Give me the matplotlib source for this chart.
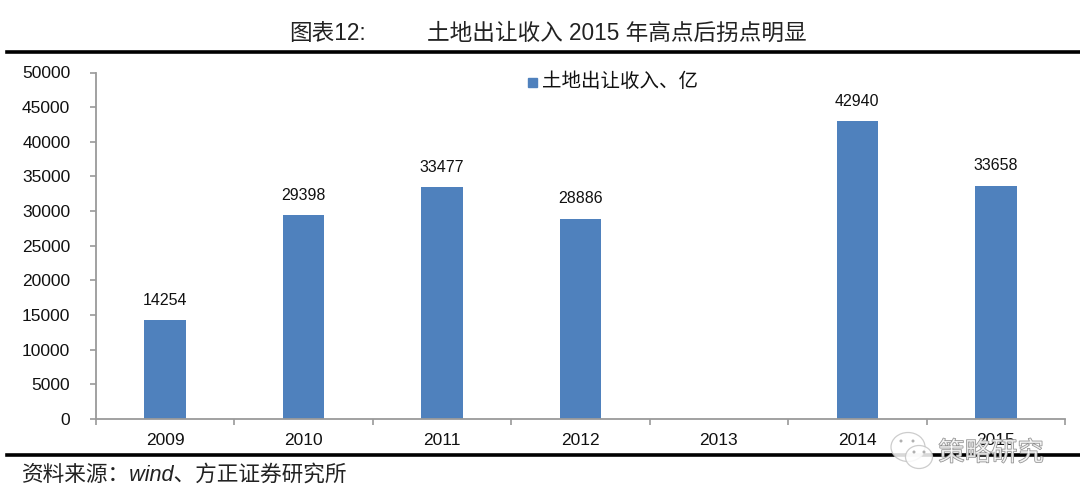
import matplotlib
matplotlib.use('Agg')
import matplotlib.pyplot as plt
import matplotlib.patheffects as pe
from matplotlib.lines import Line2D
from matplotlib.patches import Ellipse, Rectangle

plt.rcParams['font.family'] = ['Liberation Sans', 'Noto Sans CJK SC', 'DejaVu Sans']

years = ['2009', '2010', '2011', '2012', '2013', '2014', '2015']
income = [14254, 29398, 33477, 28886, None, 42940, 33658]
yticks = [0, 5000, 10000, 15000, 20000, 25000, 30000, 35000, 40000, 45000, 50000]
series_name = '土地出让收入、亿'
title_left = '图表12:'
title_main = '土地出让收入 2015 年高点后拐点明显'
source = '资料来源\uff1awind、方正证券研究所'
watermark = '策略研究'

W, H = 1080, 500
fig = plt.figure(figsize=(W / 100, H / 100), dpi=100, facecolor='white')
L, R, T, B = 96, 1065, 72.5, 419
ax = fig.add_axes([L / W, 1 - B / H, (R - L) / W, (B - T) / H])

xs = list(range(len(years)))
vals = [v if v is not None else 0 for v in income]
ax.bar(xs, vals, width=0.3, color='#4F81BD', zorder=2)
for x, v in zip(xs, income):
    if v is not None:
        ax.annotate(str(v), (x, v), xytext=(0, 9), textcoords='offset points',
                    ha='center', va='bottom', fontsize=11.5, color='#111111')

ax.set_xlim(-0.5, 6.5)
ax.set_ylim(0, 50000)
ax.set_yticks(yticks)
ax.set_xticks([i - 0.5 for i in range(8)], labels=[])
ax.set_xticks(xs, labels=years, minor=True)
ax.tick_params(axis='x', which='major', length=4, width=1.2, color='#9A9A9A', direction='out')
ax.tick_params(axis='x', which='minor', length=0, pad=10, labelsize=12.5, labelcolor='#111111')
ax.tick_params(axis='y', length=4, width=1.2, color='#9A9A9A', labelsize=12.5, labelcolor='#111111', pad=14.5)
for s in ('top', 'right'):
    ax.spines[s].set_visible(False)
for s in ('left', 'bottom'):
    ax.spines[s].set_color('#9A9A9A')
    ax.spines[s].set_linewidth(1.3)

def px(x, y):
    return x / W, 1 - y / H

# horizontal rules
for y in (52, 455):
    fig.add_artist(Line2D([7 / W, 1], [1 - y / H] * 2, color='black', lw=2.6,
                          transform=fig.transFigure, zorder=5))

# title and source
fig.text(*px(289, 33), title_left, fontsize=16.3, va='center', ha='left', color='#222222')
fig.text(*px(427, 33), title_main, fontsize=16.3, va='center', ha='left', color='#222222')
fig.text(*px(22, 475), source, fontsize=15.6, va='center', ha='left', color='#222222',
         style='italic')

# legend
fig.add_artist(Rectangle(px(528, 87), 9 / W, 9 / H, transform=fig.transFigure,
                         color='#4F81BD', zorder=6))
fig.text(*px(542, 82), series_name, fontsize=14, va='center', ha='left', color='#111111')

# watermark: two chat bubbles with eyes, then the outlined name
for cx, cy, w, h in ((908, 447, 34, 29), (919, 457, 27, 23)):
    fig.add_artist(Ellipse(px(cx, cy), w / W, h / H, transform=fig.transFigure, fc='white',
                           ec='#C4C4C4', lw=0.9, alpha=0.85, zorder=7))
for cx, cy in ((901, 441), (913, 441), (914, 452), (924, 452)):
    fig.add_artist(Ellipse(px(cx, cy), 3 / W, 3 / H, transform=fig.transFigure,
                           fc='#B0B0B0', ec='none', zorder=7))
t = fig.text(*px(991, 453), watermark, fontsize=19, va='center', ha='center', color='#FFFFFFB0',
             zorder=8)
t.set_path_effects([pe.Stroke(linewidth=0.9, foreground='#8A8A8A'), pe.Normal()])

fig.savefig('out.png', dpi=100, facecolor='white')
